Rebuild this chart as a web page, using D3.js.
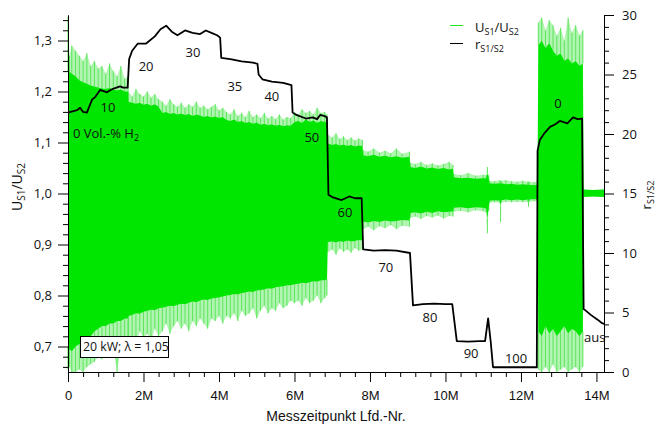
<!DOCTYPE html>
<html>
<head>
<meta charset="utf-8">
<script src="https://cdn.jsdelivr.net/npm/d3@7"></script>
<style>
  body { margin: 0; background: #fff; }
  text { font-family: "Open Sans", sans-serif; fill: #111; }
</style>
</head>
<body>
<div id="wrapper"></div>
<script>
// 1. Access Data
// x values in millions of measurement points (Messzeitpunkt)
const xTicksM = [0, 2, 4, 6, 8, 10, 12, 14]
const leftTicks = [0.7, 0.8, 0.9, 1.0, 1.1, 1.2, 1.3]
const rightTicks = [0, 5, 10, 15, 20, 25, 30]

// r_S1/S2 (right axis)
const rPosM = [
  0, 0.24, 0.32, 0.4, 0.5, 0.64, 0.72, 0.85, 1.03, 1.19, 1.38, 1.46, 1.58,
  1.62, 1.7, 1.85, 2.07, 2.3, 2.45, 2.6, 2.75, 2.9, 3.1, 3.3, 3.5, 3.65, 3.8, 3.95, 4.03,
  4.06, 4.3, 4.6, 4.9, 5.02,
  5.05, 5.15, 5.4, 5.7, 5.92,
  5.95, 6.05, 6.3, 6.48, 6.6, 6.68, 6.8, 6.86,
  6.9, 7.0, 7.25, 7.45, 7.6, 7.78,
  7.82, 8.1, 8.4, 8.7, 9.06,
  9.14, 9.4, 9.7, 10.0, 10.18,
  10.3, 10.6, 10.9, 11.05, 11.13, 11.2, 11.26,
  11.6, 12.0, 12.42,
  12.44, 12.5, 12.63, 12.77, 12.9, 13.03, 13.23, 13.38, 13.5, 13.62,
  13.66, 13.7, 13.85, 14.03, 14.15, 14.2
]
const rValues = [
  21.8, 22.0, 22.2, 21.85, 21.8, 22.9, 23.1, 23.7, 23.5, 23.8, 24.0, 23.9, 23.9,
  26.3, 27.0, 27.6, 27.6, 28.2, 28.8, 29.1, 28.6, 28.3, 28.7, 28.5, 28.4, 28.7, 28.5, 28.3, 28.1,
  26.4, 26.3, 26.1, 26.0, 25.9,
  25.0, 24.6, 24.4, 24.3, 24.1,
  21.8, 21.6, 21.3, 21.4, 21.25, 21.6, 21.5, 21.4,
  14.9, 14.7, 14.45, 14.75, 14.6, 14.6,
  10.3, 10.2, 10.25, 10.2, 10.0,
  5.6, 5.7, 5.75, 5.7, 5.7,
  2.6, 2.55, 2.6, 2.6, 4.5, 2.5, 0.4,
  0.4, 0.4, 0.4,
  18.6, 19.5, 20.1, 20.6, 20.8, 21.1, 20.9, 21.4, 21.25, 21.3,
  5.3, 5.2, 4.8, 4.4, 4.1, 4.05
]

// U_S1/U_S2 (left axis): envelope of the dense signal
const greenPosM = [
  0, 0.04, 0.1, 0.2, 0.3, 0.4, 0.5, 0.6, 0.7, 0.8, 0.9, 1.0, 1.1, 1.2, 1.3, 1.4, 1.5, 1.59,
  1.6, 1.7, 1.8, 1.9, 2.0, 2.1, 2.2, 2.3, 2.4,
  2.5, 2.6, 2.7, 2.8, 2.9, 3.0, 3.1, 3.2, 3.3, 3.4, 3.5, 3.6, 3.7, 3.8, 3.9, 4.0, 4.1,
  4.2, 4.3, 4.4, 4.5, 4.6, 4.7, 4.8, 4.9, 5.0, 5.1, 5.2, 5.3, 5.4, 5.5, 5.6, 5.7, 5.8, 5.9,
  6.0, 6.1, 6.2, 6.3, 6.4, 6.5, 6.6, 6.7, 6.8, 6.86,
  6.88, 7.0, 7.1, 7.2, 7.3, 7.4, 7.5, 7.6, 7.7, 7.8,
  7.82, 7.95, 8.1, 8.25, 8.4, 8.55, 8.7, 8.85, 9.05,
  9.07, 9.2, 9.35, 9.5, 9.65, 9.8, 9.95, 10.1, 10.2,
  10.22, 10.4, 10.6, 10.8, 11.0, 11.08, 11.11, 11.14, 11.15,
  11.17, 11.3, 11.44, 11.46, 11.48, 11.6, 11.75, 11.9, 12.05, 12.18, 12.2, 12.22, 12.35, 12.44,
  12.46, 12.55, 12.65, 12.75, 12.85, 12.95, 13.05, 13.15, 13.25, 13.35, 13.45, 13.55, 13.64,
  13.66, 13.9, 14.2
]
const greenSpikeTop = [
  1.346, 1.27, 1.29, 1.28, 1.27, 1.26, 1.275, 1.25, 1.26, 1.245, 1.25, 1.235, 1.255, 1.24, 1.23, 1.25, 1.225, 1.23,
  1.2, 1.19, 1.205, 1.195, 1.19, 1.2, 1.188, 1.195, 1.185,
  1.18, 1.172, 1.185, 1.175, 1.17, 1.178, 1.168, 1.175, 1.17, 1.18, 1.168, 1.172, 1.165, 1.17, 1.175, 1.163, 1.168,
  1.16, 1.155, 1.165, 1.152, 1.158, 1.15, 1.162, 1.15, 1.155, 1.148, 1.158, 1.147, 1.152, 1.146, 1.155, 1.145, 1.15, 1.148,
  1.16, 1.155, 1.165, 1.158, 1.162, 1.155, 1.168, 1.158, 1.16, 1.155,
  1.115, 1.11, 1.118, 1.107, 1.112, 1.105, 1.11, 1.104, 1.108, 1.105,
  1.085, 1.082, 1.088, 1.08, 1.084, 1.079, 1.088, 1.078, 1.082,
  1.06, 1.058, 1.062, 1.056, 1.059, 1.055, 1.058, 1.062, 1.056,
  1.038, 1.036, 1.04, 1.035, 1.037, 1.036, 1.052, 1.036, 1.034,
  1.025, 1.024, 1.026, 1.024, 1.025, 1.026, 1.024, 1.023, 1.025, 1.023, 1.023, 1.023, 1.022, 1.024,
  1.335, 1.345, 1.32, 1.34, 1.33, 1.31, 1.325, 1.3, 1.345, 1.315, 1.33, 1.31, 1.32,
  1.008, 1.007, 1.008
]
const greenTop = [
  1.24, 1.238, 1.235, 1.23, 1.222, 1.218, 1.215, 1.212, 1.21, 1.208, 1.206, 1.205, 1.207, 1.204, 1.202, 1.204, 1.2, 1.2,
  1.18, 1.178, 1.176, 1.178, 1.174, 1.176, 1.172, 1.175, 1.17,
  1.158, 1.16, 1.156, 1.158, 1.155, 1.157, 1.154, 1.156, 1.152, 1.155, 1.153, 1.15, 1.152, 1.149, 1.151, 1.148, 1.15,
  1.144, 1.142, 1.145, 1.14, 1.142, 1.138, 1.14, 1.137, 1.139, 1.135, 1.137, 1.134, 1.136, 1.133, 1.135, 1.132, 1.134, 1.133,
  1.14, 1.142, 1.138, 1.145, 1.14, 1.143, 1.138, 1.142, 1.14, 1.14,
  1.098, 1.095, 1.097, 1.094, 1.096, 1.093, 1.095, 1.092, 1.094, 1.093,
  1.075, 1.073, 1.076, 1.072, 1.074, 1.071, 1.073, 1.07, 1.072,
  1.052, 1.05, 1.053, 1.049, 1.051, 1.048, 1.05, 1.047, 1.049,
  1.032, 1.03, 1.031, 1.029, 1.03, 1.03, 1.04, 1.03, 1.028,
  1.02, 1.019, 1.02, 1.019, 1.02, 1.018, 1.019, 1.017, 1.018, 1.017, 1.017, 1.017, 1.016, 1.017,
  1.29, 1.3, 1.285, 1.295, 1.28, 1.27, 1.275, 1.26, 1.265, 1.255, 1.26, 1.25, 1.255,
  1.008, 1.007, 1.008
]
const greenBottom = [
  0.7, 0.695, 0.69, 0.7, 0.705, 0.71, 0.715, 0.72, 0.73, 0.735, 0.74, 0.74, 0.745, 0.745, 0.75, 0.75, 0.755, 0.755,
  0.76, 0.762, 0.765, 0.764, 0.768, 0.77, 0.772, 0.771, 0.775,
  0.776, 0.778, 0.78, 0.779, 0.782, 0.784, 0.783, 0.786, 0.788, 0.787, 0.79, 0.792, 0.791, 0.794, 0.795, 0.796, 0.798,
  0.8, 0.801, 0.803, 0.802, 0.805, 0.806, 0.808, 0.807, 0.81, 0.811, 0.812, 0.814, 0.813, 0.816, 0.817, 0.818, 0.82, 0.82,
  0.822, 0.823, 0.825, 0.824, 0.826, 0.828, 0.827, 0.83, 0.83, 0.832,
  0.905, 0.906, 0.904, 0.907, 0.905, 0.908, 0.906, 0.907, 0.909, 0.908,
  0.945, 0.943, 0.946, 0.944, 0.947, 0.945, 0.946, 0.948, 0.947,
  0.962, 0.963, 0.961, 0.964, 0.962, 0.965, 0.963, 0.964, 0.965,
  0.972, 0.973, 0.971, 0.973, 0.972, 0.97, 0.95, 0.972, 0.974,
  0.986, 0.987, 0.986, 0.975, 0.987, 0.988, 0.987, 0.988, 0.987, 0.988, 0.985, 0.988, 0.989, 0.988,
  0.73, 0.72, 0.74, 0.725, 0.735, 0.72, 0.73, 0.74, 0.725, 0.735, 0.73, 0.72, 0.73,
  0.993, 0.994, 0.993
]
const greenSpikeBottom = [
  0.655, 0.66, 0.65, 0.65, 0.655, 0.65, 0.66, 0.665, 0.67, 0.68, 0.675, 0.69, 0.685, 0.695, 0.65, 0.7, 0.69, 0.7,
  0.71, 0.72, 0.705, 0.73, 0.715, 0.725, 0.71, 0.735, 0.72,
  0.73, 0.745, 0.725, 0.74, 0.75, 0.735, 0.745, 0.73, 0.75, 0.74, 0.755, 0.745, 0.735, 0.755, 0.75, 0.76, 0.745,
  0.76, 0.755, 0.765, 0.75, 0.77, 0.76, 0.765, 0.775, 0.755, 0.77, 0.78, 0.765, 0.775, 0.77, 0.785, 0.775, 0.78, 0.79,
  0.785, 0.79, 0.78, 0.795, 0.785, 0.79, 0.8, 0.785, 0.795, 0.8,
  0.885, 0.89, 0.88, 0.892, 0.886, 0.89, 0.884, 0.893, 0.888, 0.89,
  0.93, 0.935, 0.928, 0.936, 0.932, 0.938, 0.93, 0.937, 0.935,
  0.952, 0.955, 0.95, 0.956, 0.953, 0.957, 0.951, 0.956, 0.955,
  0.964, 0.966, 0.963, 0.967, 0.965, 0.963, 0.922, 0.965, 0.968,
  0.982, 0.983, 0.982, 0.944, 0.982, 0.984, 0.983, 0.984, 0.983, 0.984, 0.974, 0.984, 0.985, 0.984,
  0.655, 0.65, 0.66, 0.65, 0.665, 0.65, 0.655, 0.66, 0.65, 0.655, 0.66, 0.65, 0.66,
  0.993, 0.994, 0.993
]

// H2 step labels, placed in data units (M, r)
const stepLabels = ["10", "20", "30", "35", "40", "50", "60", "70", "80", "90", "100", "0"]
const stepLabelM = [1.06, 2.07, 3.31, 4.42, 5.4, 6.46, 7.34, 8.42, 9.59, 10.68, 11.87, 12.98]
const stepLabelR = [21.85, 25.3, 26.5, 23.6, 22.8, 19.3, 13.0, 8.4, 4.2, 1.18, 0.76, 22.2]

const greenRows = greenPosM.map((m, i) => ({
  m,
  spikeTop: greenSpikeTop[i],
  top: greenTop[i],
  bottom: greenBottom[i],
  spikeBottom: greenSpikeBottom[i],
}))
const rRows = rPosM.map((m, i) => ({ m, r: rValues[i] }))

const de = d3.formatLocale({ decimal: ",", thousands: ".", grouping: [3], currency: ["", " €"] })
const formatLeft = de.format(".1f")

// 2. Create Chart Dimensions
const dimensions = {
  width: 657,
  height: 426,
  margin: { top: 15, right: 53, bottom: 54, left: 68 },
}
dimensions.boundedWidth = dimensions.width - dimensions.margin.left - dimensions.margin.right
dimensions.boundedHeight = dimensions.height - dimensions.margin.top - dimensions.margin.bottom

// 3. Draw Canvas
const wrapper = d3
  .select("#wrapper")
  .append("svg")
  .attr("width", dimensions.width)
  .attr("height", dimensions.height)
  .style("background-color", "#fff")

// legend first, so nothing of the chart sits on it
const legend = wrapper.append("g").attr("class", "legend")
legend
  .append("line")
  .attr("x1", 450).attr("x2", 463)
  .attr("y1", 25.5).attr("y2", 25.5)
  .attr("stroke", "#1ee81e")
  .attr("stroke-width", 1)
legend
  .append("line")
  .attr("x1", 450).attr("x2", 463)
  .attr("y1", 43.5).attr("y2", 43.5)
  .attr("stroke", "#000")
  .attr("stroke-width", 1)
const legU = legend.append("text").attr("x", 475).attr("y", 32).style("font-size", "13px")
legU.append("tspan").text("U")
legU.append("tspan").attr("dy", 2.5).style("font-size", "9px").text("S1")
legU.append("tspan").attr("dy", -2.5).text("/U")
legU.append("tspan").attr("dy", 2.5).style("font-size", "9px").text("S2")
const legR = legend.append("text").attr("x", 475).attr("y", 49).style("font-size", "13px")
legR.append("tspan").text("r")
legR.append("tspan").attr("dy", 2.5).style("font-size", "9px").text("S1/S2")

const bounds = wrapper
  .append("g")
  .attr("transform", `translate(${dimensions.margin.left}, ${dimensions.margin.top})`)

// 4. Create Scales
const xScale = d3.scaleLinear().domain([0, 14.2]).range([0, dimensions.boundedWidth])
const yLeft = d3.scaleLinear().domain([0.65, 1.35]).range([dimensions.boundedHeight, 0])
const yRight = d3.scaleLinear().domain([0, 30]).range([dimensions.boundedHeight, 0])

// 5. Draw Data
const outerArea = d3
  .area()
  .x(d => xScale(d.m))
  .y0(d => yLeft(d.spikeBottom))
  .y1(d => yLeft(d.spikeTop))
const innerArea = d3
  .area()
  .x(d => xScale(d.m))
  .y0(d => yLeft(d.bottom))
  .y1(d => yLeft(d.top))

bounds.append("path").datum(greenRows).attr("d", outerArea).attr("fill", "#b2f4b2")

// single spikes of the signal, top and bottom
const spikes = bounds.append("g").attr("stroke", "#5ce65c").attr("stroke-width", 1)
spikes
  .selectAll(".spike-top")
  .data(greenRows.filter(d => d.spikeTop > d.top))
  .enter()
  .append("line")
  .attr("class", "spike-top")
  .attr("x1", d => xScale(d.m))
  .attr("x2", d => xScale(d.m))
  .attr("y1", d => yLeft(d.top))
  .attr("y2", d => yLeft(d.spikeTop))
spikes
  .selectAll(".spike-bottom")
  .data(greenRows.filter(d => d.spikeBottom < d.bottom))
  .enter()
  .append("line")
  .attr("class", "spike-bottom")
  .attr("x1", d => xScale(d.m))
  .attr("x2", d => xScale(d.m))
  .attr("y1", d => yLeft(d.bottom))
  .attr("y2", d => yLeft(d.spikeBottom))

bounds.append("path").datum(greenRows).attr("d", innerArea).attr("fill", "#00e600")

const rLine = d3
  .line()
  .x(d => xScale(d.m))
  .y(d => yRight(d.r))
bounds
  .append("path")
  .datum(rRows)
  .attr("d", rLine)
  .attr("fill", "none")
  .attr("stroke", "#000")
  .attr("stroke-width", 1.8)
  .attr("stroke-linejoin", "round")

bounds
  .selectAll(".step-label")
  .data(stepLabels)
  .enter()
  .append("text")
  .attr("class", "step-label")
  .attr("x", (d, i) => xScale(stepLabelM[i]))
  .attr("y", (d, i) => yRight(stepLabelR[i]))
  .attr("text-anchor", "middle")
  .style("font-size", "13px")
  .text(d => d)

bounds
  .append("text")
  .attr("x", xScale(13.67))
  .attr("y", yRight(2.52))
  .style("font-size", "13px")
  .text("aus")

const volText = bounds
  .append("text")
  .attr("x", xScale(0.13))
  .attr("y", yRight(19.66))
  .style("font-size", "13px")
volText.append("tspan").text("0 Vol.-% H")
volText.append("tspan").attr("dy", 3).style("font-size", "9px").text("2")

// 6. Draw Peripherals
function styleAxis(g) {
  g.selectAll("path, line").attr("stroke", "#000")
  g.selectAll("text").attr("fill", "#111")
}

// x axis
const xAxis = d3
  .axisBottom(xScale)
  .tickValues(xTicksM)
  .tickSize(10)
  .tickSizeOuter(0)
  .tickPadding(9)
  .tickFormat(d => (d === 0 ? "0" : d + "M"))
const xMinor = d3
  .axisBottom(xScale)
  .tickValues(d3.range(0.4, 14.2, 0.4).filter(v => Math.abs(v / 2 - Math.round(v / 2)) > 0.01))
  .tickSize(5)
  .tickSizeOuter(0)
  .tickFormat("")
bounds
  .append("g")
  .attr("transform", `translate(0, ${dimensions.boundedHeight})`)
  .call(xMinor)
  .call(styleAxis)
bounds
  .append("g")
  .attr("transform", `translate(0, ${dimensions.boundedHeight})`)
  .call(xAxis)
  .call(styleAxis)
  .selectAll("text")
  .style("font-family", "'Liberation Sans', Arial, sans-serif")
  .style("font-size", "13px")

// left axis
const leftAxis = d3
  .axisLeft(yLeft)
  .tickValues(leftTicks)
  .tickSize(10)
  .tickSizeOuter(0)
  .tickPadding(6)
  .tickFormat(formatLeft)
const leftMinor = d3
  .axisLeft(yLeft)
  .tickValues(d3.range(0.66, 1.35, 0.02).filter(v => Math.abs(v * 10 - Math.round(v * 10)) > 0.05))
  .tickSize(5)
  .tickSizeOuter(0)
  .tickFormat("")
bounds.append("g").call(leftMinor).call(styleAxis)
bounds
  .append("g")
  .call(leftAxis)
  .call(styleAxis)
  .selectAll("text")
  .style("font-size", "13px")

// right axis
const rightAxis = d3
  .axisRight(yRight)
  .tickValues(rightTicks)
  .tickSize(10)
  .tickSizeOuter(0)
  .tickPadding(8)
const rightMinor = d3
  .axisRight(yRight)
  .tickValues(d3.range(1, 30, 1).filter(v => v % 5 !== 0))
  .tickSize(5)
  .tickSizeOuter(0)
  .tickFormat("")
const rightG = bounds
  .append("g")
  .attr("transform", `translate(${dimensions.boundedWidth}, 0)`)
rightG.append("g").call(rightMinor).call(styleAxis)
rightG
  .append("g")
  .call(rightAxis)
  .call(styleAxis)
  .selectAll("text")
  .style("font-size", "13px")

// axis titles
wrapper
  .append("text")
  .attr("x", 336)
  .attr("y", 421)
  .attr("text-anchor", "middle")
  .style("font-family", "'Liberation Sans', Arial, sans-serif")
  .style("font-size", "14px")
  .text("Messzeitpunkt Lfd.-Nr.")

const leftTitle = wrapper
  .append("text")
  .attr("transform", "translate(22, 187) rotate(-90)")
  .attr("text-anchor", "middle")
  .style("font-size", "14px")
leftTitle.append("tspan").text("U")
leftTitle.append("tspan").attr("dy", 3).style("font-size", "10px").text("S1")
leftTitle.append("tspan").attr("dy", -3).text("/U")
leftTitle.append("tspan").attr("dy", 3).style("font-size", "10px").text("S2")

const rightTitle = wrapper
  .append("text")
  .attr("transform", "translate(651, 195) rotate(-90)")
  .attr("text-anchor", "middle")
  .style("font-size", "13px")
rightTitle.append("tspan").text("r")
rightTitle.append("tspan").attr("dy", 2.5).style("font-size", "9px").text("S1/S2")

// condition box
const box = wrapper.append("g")
box
  .append("rect")
  .attr("x", 80.5).attr("y", 336.5)
  .attr("width", 88).attr("height", 21)
  .attr("fill", "#fff")
  .attr("stroke", "#000")
box
  .append("text")
  .attr("x", 83)
  .attr("y", 351)
  .style("font-size", "12.3px")
  .text("20 kW; λ = 1,05")
</script>
</body>
</html>
